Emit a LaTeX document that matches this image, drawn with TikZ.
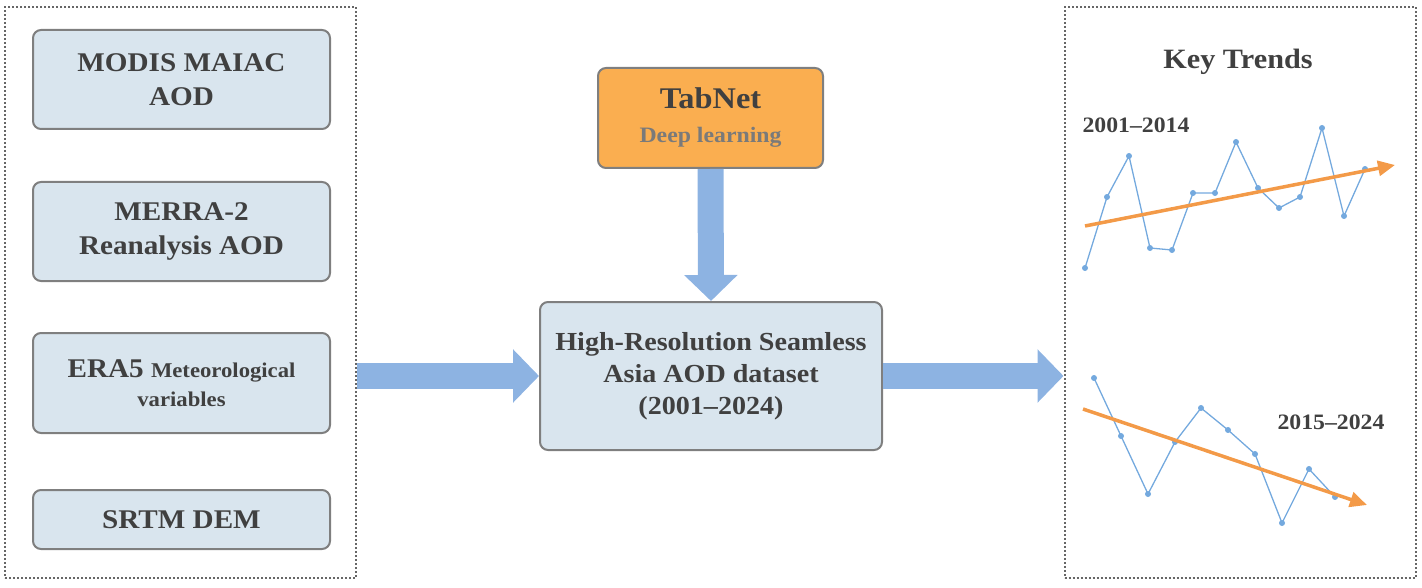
\documentclass[tikz,border=0pt]{standalone}
\usepackage{fontspec}
\setmainfont{Liberation Serif}[FakeStretch=1.08]
\usetikzlibrary{arrows.meta}
\definecolor{boxblue}{HTML}{D9E5EE}
\definecolor{boxgray}{HTML}{7F7F7F}
\definecolor{framegray}{HTML}{666666}
\definecolor{txtgray}{HTML}{404040}
\definecolor{subgray}{HTML}{7A7A7A}
\definecolor{taborange}{HTML}{FAAE50}
\definecolor{flowblue}{HTML}{8DB3E2}
\definecolor{seriesblue}{HTML}{74A9DE}
\definecolor{trendorange}{HTML}{F39A48}
\begin{document}
\begin{tikzpicture}[x=1pt,y=-1pt,
  inbox/.style={draw=boxgray, line width=2pt, fill=boxblue, rounded corners=8pt,
    minimum width=297pt, align=center, text=txtgray,
    font=\bfseries\fontsize{27}{34}\selectfont},
  frame/.style={draw=framegray, line width=2pt, dash pattern=on 2pt off 2pt,
    minimum width=351pt, minimum height=571pt},
  flow/.style={draw=flowblue, line width=26pt, -{Triangle[length=26pt,width=52pt]}},
  series/.style={draw=seriesblue, line width=1.3pt, mark=*, mark size=2.3pt,
    mark options={fill=seriesblue, draw=seriesblue}},
  trend/.style={draw=trendorange, line width=3.5pt, -{Triangle[length=17pt,width=15pt]}},
  period/.style={text=txtgray, font=\bfseries\fontsize{22}{28}\selectfont}]
\useasboundingbox (0,0) rectangle (1422,588);
% input data
\node[frame] (src) at (180.5,292.5) {};
\node[inbox, minimum height=99pt] (modis) at (181.5,79.5) {MODIS MAIAC\\AOD};
\node[inbox, minimum height=99pt] (merra) at (181.5,231.5) {MERRA-2\\Reanalysis AOD};
\node[inbox, minimum height=100pt, font=\bfseries\fontsize{27}{29}\selectfont] (era) at (181.5,383)
  {ERA5 {\fontsize{21}{29}\selectfont Meteorological}\\{\fontsize{21}{29}\selectfont variables}};
\node[inbox, minimum height=59pt] (srtm) at (181.5,519.5) {SRTM DEM};
% model and product
\node[inbox, fill=taborange, minimum width=225pt, minimum height=100pt,
  font=\bfseries\fontsize{30}{34}\selectfont] (tab) at (710.5,118)
  {TabNet\\{\color{subgray}\fontsize{22}{34}\selectfont Deep learning}};
\node[inbox, minimum width=342pt, minimum height=148pt,
  font=\bfseries\fontsize{26}{32}\selectfont] (data) at (711,376)
  {High-Resolution Seamless\\Asia AOD dataset\\(2001--2024)};
% trends
\node[frame] (trends) at (1240,292.5) {};
\node[period, font=\bfseries\fontsize{28}{32}\selectfont] (key) at (1238,62) {Key Trends};
\node[period] (early) at (1136,125) {2001--2014};
\node[period] (late) at (1331,422) {2015--2024};
\draw[series] plot coordinates {(1085,268) (1107,197) (1129,156) (1150,248) (1172,250)
  (1193,193) (1215,193) (1236,142) (1258,188) (1279,208) (1300,197) (1322,128)
  (1344,216) (1365,169)};
\draw[trend] (1085,226) -- (1395,165);
\draw[series] plot coordinates {(1094,378) (1121,436) (1148,494) (1175,442) (1201,408)
  (1228,430) (1255,454) (1282,523) (1309,469) (1335,497)};
\draw[trend] (1083,409) -- (1367,505);
% flow arrows
\draw[flow] (src.east |- data.west) -- (data.west);
\draw[flow] (tab.south) -- (data.north);
\draw[flow] (data.east) -- (trends.west |- data.east);
\end{tikzpicture}
\end{document}
